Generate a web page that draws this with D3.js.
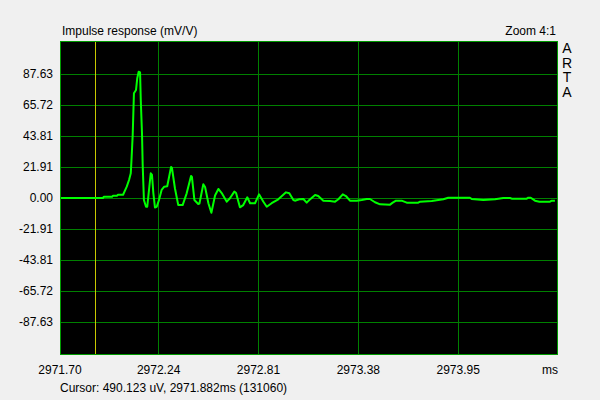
<!DOCTYPE html>
<html><head><meta charset="utf-8">
<script src="https://cdn.jsdelivr.net/npm/d3@7"></script>
<style>
html,body{margin:0;padding:0;background:#f0f0f0;}
svg{display:block;font-family:"Liberation Sans",Arial,sans-serif;}
</style></head>
<body>
<svg id="chart" width="600" height="400"></svg>
<script>
// ---- data ----
const timeMs = [
2971.680,2971.925,2971.931,2971.977,2971.983,2972.005,2972.011,2972.040,2972.061,2972.074,
2972.084,2972.089,2972.095,2972.102,2972.114,2972.121,2972.129,2972.137,2972.141,2972.148,
2972.152,2972.159,2972.171,2972.178,2972.184,2972.198,2972.205,2972.213,2972.222,2972.232,
2972.245,2972.260,2972.275,2972.292,2972.314,2972.319,2972.336,2972.355,2972.380,2972.403,
2972.428,2972.433,2972.447,2972.469,2972.476,2972.498,2972.508,2972.527,2972.544,2972.565,
2972.584,2972.603,2972.632,2972.650,2972.675,2972.685,2972.707,2972.726,2972.749,2972.765,
2972.793,2972.816,2972.840,2972.860,2972.888,2972.926,2972.970,2972.989,2973.012,2973.021,
2973.046,2973.069,2973.088,2973.103,2973.136,2973.154,2973.183,2973.221,2973.250,2973.269,
2973.294,2973.312,2973.335,2973.374,2973.402,2973.431,2973.449,2973.478,2973.507,2973.564,
2973.579,2973.598,2973.630,2973.659,2973.725,2973.735,2973.802,2973.839,2973.868,2973.896,
2974.020,2974.030,2974.096,2974.163,2974.210,2974.249,2974.258,2974.344,2974.353,2974.367,
2974.391,2974.416,2974.477,2974.487,2974.505
];
const response = [
0,0,0.9,0.9,1.6,1.6,2.3,2.3,8.0,12.7,
17.5,29.2,44.6,74.0,76.4,84.7,89.3,88.8,69.3,45.8,
23.3,-1.4,-6.2,-6.2,0.9,17.5,16.3,3.3,-6.7,-6.2,
-1.4,5.7,8.0,8.3,21.9,21.2,6.9,-5.0,-5.0,3.3,
15.6,14.9,-1.4,-4.2,-3.9,9.7,7.8,-3.7,-10.4,1.8,
6.4,3.5,-2.6,-0.2,4.5,3.5,-6.6,-5.0,0.5,-3.7,
-3.7,2.6,-2.5,-6.2,-3.7,-0.9,4.0,3.3,-1.4,-1.9,
-0.9,-0.7,-3.3,-1.4,2.1,1.4,-1.9,-2.1,-2.6,-0.9,
2.6,1.4,-1.9,-1.9,-1.4,-0.7,-0.7,-3.0,-4.5,-4.7,
-3.3,-1.9,-1.9,-3.3,-3.3,-2.6,-2.1,-1.4,-0.9,0.2,
0.2,-0.7,-1.4,-0.9,0,0,-0.5,-0.5,0.2,0.2,
-1.9,-2.6,-2.6,-1.9,-1.9
];
const xDomain = [2971.68, 2974.5225];
const xTicks = [2972.24, 2972.81, 2973.38, 2973.95];
const xTickLabels = ["2972.24", "2972.81", "2973.38", "2973.95"];
const xEdgeLabel = "2971.70";
const yDomain = [-111, 111];
const yTicks = [87.63, 65.72, 43.81, 21.91, 0, -21.91, -43.81, -65.72, -87.63];
const yTickLabels = ["87.63", "65.72", "43.81", "21.91", "0.00", "-21.91", "-43.81", "-65.72", "-87.63"];
const cursorTime = 2971.882;
const titleText = "Impulse response (mV/V)";
const zoomText = "Zoom 4:1";
const unitText = "ms";
const cursorText = "Cursor: 490.123 uV, 2971.882ms (131060)";
const brandLetters = ["A", "R", "T", "A"];

// ---- drawing ----
const svg = d3.select("#chart");
const L = 60, R = 558, T = 41, B = 355;
const x = d3.scaleLinear().domain(xDomain).range([L, R]);
const y = d3.scaleLinear().domain(yDomain).range([B, T]);

svg.append("rect").attr("x", L).attr("y", T).attr("width", R - L).attr("height", B - T).attr("fill", "#000");

const grid = svg.append("g").attr("shape-rendering", "crispEdges");
grid.selectAll("line.h").data(yTicks).join("line")
  .attr("x1", L).attr("x2", R)
  .attr("y1", d => Math.round(y(d)) + 0.5).attr("y2", d => Math.round(y(d)) + 0.5)
  .attr("stroke", "#008000").attr("stroke-width", 1);
grid.selectAll("line.v").data(xTicks).join("line")
  .attr("y1", T).attr("y2", B)
  .attr("x1", d => Math.round(x(d)) + 0.5).attr("x2", d => Math.round(x(d)) + 0.5)
  .attr("stroke", "#008000").attr("stroke-width", 1);

// cursor line
svg.append("line")
  .attr("x1", Math.round(x(cursorTime)) + 0.5).attr("x2", Math.round(x(cursorTime)) + 0.5)
  .attr("y1", T).attr("y2", B)
  .attr("stroke", "#c8c800").attr("stroke-width", 1).attr("shape-rendering", "crispEdges");

// waveform
const pts = timeMs.map((t, i) => [t, response[i]]);
svg.append("path").datum(pts)
  .attr("d", d3.line().x(d => x(d[0])).y(d => y(d[1])))
  .attr("fill", "none").attr("stroke", "#00ff00").attr("stroke-width", 2)
  .attr("stroke-linejoin", "round");

// border
svg.append("rect").attr("x", L + 0.5).attr("y", T + 0.5).attr("width", R - L - 1).attr("height", B - T - 1)
  .attr("fill", "none").attr("stroke", "#009a00").attr("stroke-width", 1).attr("shape-rendering", "crispEdges");

// y axis labels
const yAxis = d3.axisLeft(y).tickValues(yTicks).tickSize(0).tickPadding(7)
  .tickFormat((d, i) => yTickLabels[i]);
const gy = svg.append("g").attr("transform", `translate(${L},0)`).call(yAxis);
gy.select(".domain").remove();
gy.selectAll("text").attr("font-size", 12).attr("fill", "#000")
  .attr("font-family", "'Liberation Sans',Arial,sans-serif");

// x axis labels
const xAxis = d3.axisBottom(x).tickValues(xTicks).tickSize(0).tickPadding(10)
  .tickFormat((d, i) => xTickLabels[i]);
const gx = svg.append("g").attr("transform", `translate(0,${B})`).call(xAxis);
gx.select(".domain").remove();
gx.selectAll("text").attr("font-size", 12).attr("fill", "#000")
  .attr("font-family", "'Liberation Sans',Arial,sans-serif");

const txt = (s, xx, yy, anchor) => svg.append("text").text(s).attr("x", xx).attr("y", yy)
  .attr("text-anchor", anchor || "start").attr("font-size", 12).attr("fill", "#000");

txt(xEdgeLabel, x(xDomain[0]), 374, "middle");
txt(unitText, R, 374, "end");
txt(titleText, 62, 35);
txt(zoomText, 556, 35, "end");
txt(cursorText, 60, 392);
brandLetters.forEach((c, i) => txt(c, 567, 53 + i * 14.5, "middle").attr("font-size", 14));
</script>
</body></html>
